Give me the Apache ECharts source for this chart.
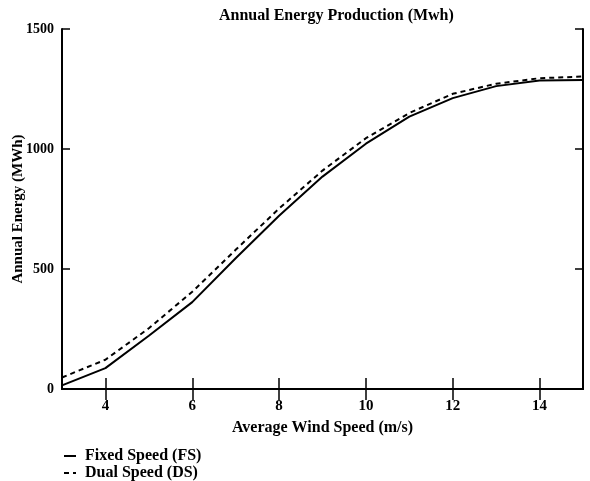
<!DOCTYPE html>
<html>
<head>
<meta charset="utf-8">
<script src="https://cdn.jsdelivr.net/npm/echarts@6/dist/echarts.min.js"></script>
<style>html,body{margin:0;padding:0;background:#fff}#c{width:590px;height:481px}</style>
</head>
<body>
<div id="c"></div>
<script>
const windSpeed = [3, 4, 5, 6, 7, 8, 9, 10, 11, 12, 13, 14, 15];
const fixedSpeed = [15, 87, 222, 362, 545, 722, 885, 1022, 1135, 1212, 1262, 1285, 1287];
const dualSpeed = [48, 122, 253, 405, 580, 752, 910, 1045, 1150, 1230, 1272, 1295, 1302];
const xTicks = [4, 6, 8, 10, 12, 14];
const seriesNames = ['Fixed Speed (FS)', 'Dual Speed (DS)'];

const font = '"Liberation Serif", "DejaVu Serif", serif';
const chart = echarts.init(document.getElementById('c'));
const axisLine = { show: true, lineStyle: { color: '#000', width: 2 } };
const legendBase = {
  orient: 'vertical', left: 58, itemWidth: 12, itemHeight: 10, itemGap: 0,
  itemStyle: { opacity: 0 },
  textStyle: { fontFamily: font, fontSize: 16, fontWeight: 'bold', color: '#000', padding: [0, 0, 0, 4] }
};
chart.setOption({
  animation: false,
  backgroundColor: '#fff',
  title: {
    text: 'Annual Energy Production (Mwh)',
    left: 214, top: 3,
    textStyle: { fontFamily: font, fontSize: 16, fontWeight: 'bold', color: '#000' }
  },
  legend: [
    Object.assign({}, legendBase, { top: 443, data: [seriesNames[0]] }),
    Object.assign({}, legendBase, { top: 460, data: [seriesNames[1]] })
  ],
  grid: { left: 62, right: 7, top: 29, bottom: 92, outerBoundsMode: 'none', containLabel: false },
  xAxis: [{
    type: 'value', min: 3, max: 15, position: 'bottom',
    name: 'Average Wind Speed (m/s)', nameLocation: 'middle', nameGap: 31,
    nameTextStyle: { fontFamily: font, fontSize: 16, fontWeight: 'bold', color: '#000' },
    axisLine: axisLine,
    axisTick: { show: true, inside: true, length: 11, customValues: xTicks, lineStyle: { color: '#000', width: 1.5 } },
    axisLabel: { customValues: xTicks, fontFamily: font, fontSize: 15, fontWeight: 'bold', color: '#000', margin: 10 },
    splitLine: { show: false }
  }, {
    type: 'value', min: 3, max: 15, position: 'top',
    axisLine: axisLine,
    axisTick: { show: true, inside: true, length: 11, customValues: xTicks, lineStyle: { color: '#000', width: 1.5 } },
    axisLabel: { show: false },
    splitLine: { show: false }
  }],
  yAxis: [{
    type: 'value', min: 0, max: 1500, interval: 500, position: 'left',
    name: 'Annual Energy (MWh)', nameLocation: 'middle', nameGap: 36, nameRotate: 90,
    nameMoveOverlap: false,
    nameTextStyle: { fontFamily: font, fontSize: 15, fontWeight: 'bold', color: '#000' },
    axisLine: axisLine,
    axisTick: { show: true, inside: true, length: 8, lineStyle: { color: '#000', width: 1.5 } },
    axisLabel: { formatter: v => String(v), fontFamily: font, fontSize: 14, fontWeight: 'bold', color: '#000', margin: 8 },
    splitLine: { show: false }
  }, {
    type: 'value', min: 0, max: 1500, interval: 500, position: 'right',
    axisLine: axisLine,
    axisTick: { show: true, inside: true, length: 8, lineStyle: { color: '#000', width: 1.5 } },
    axisLabel: { show: false },
    splitLine: { show: false }
  }],
  series: [{
    name: seriesNames[0], type: 'line', symbol: 'none', smooth: false,
    data: windSpeed.map((x, i) => [x, fixedSpeed[i]]),
    lineStyle: { color: '#000', width: 2, type: 'solid' },
    itemStyle: { color: '#000' }
  }, {
    name: seriesNames[1], type: 'line', symbol: 'none', smooth: false,
    data: windSpeed.map((x, i) => [x, dualSpeed[i]]),
    lineStyle: { color: '#000', width: 2, type: [5, 4] },
    itemStyle: { color: '#000' }
  }]
});
</script>
</body>
</html>
